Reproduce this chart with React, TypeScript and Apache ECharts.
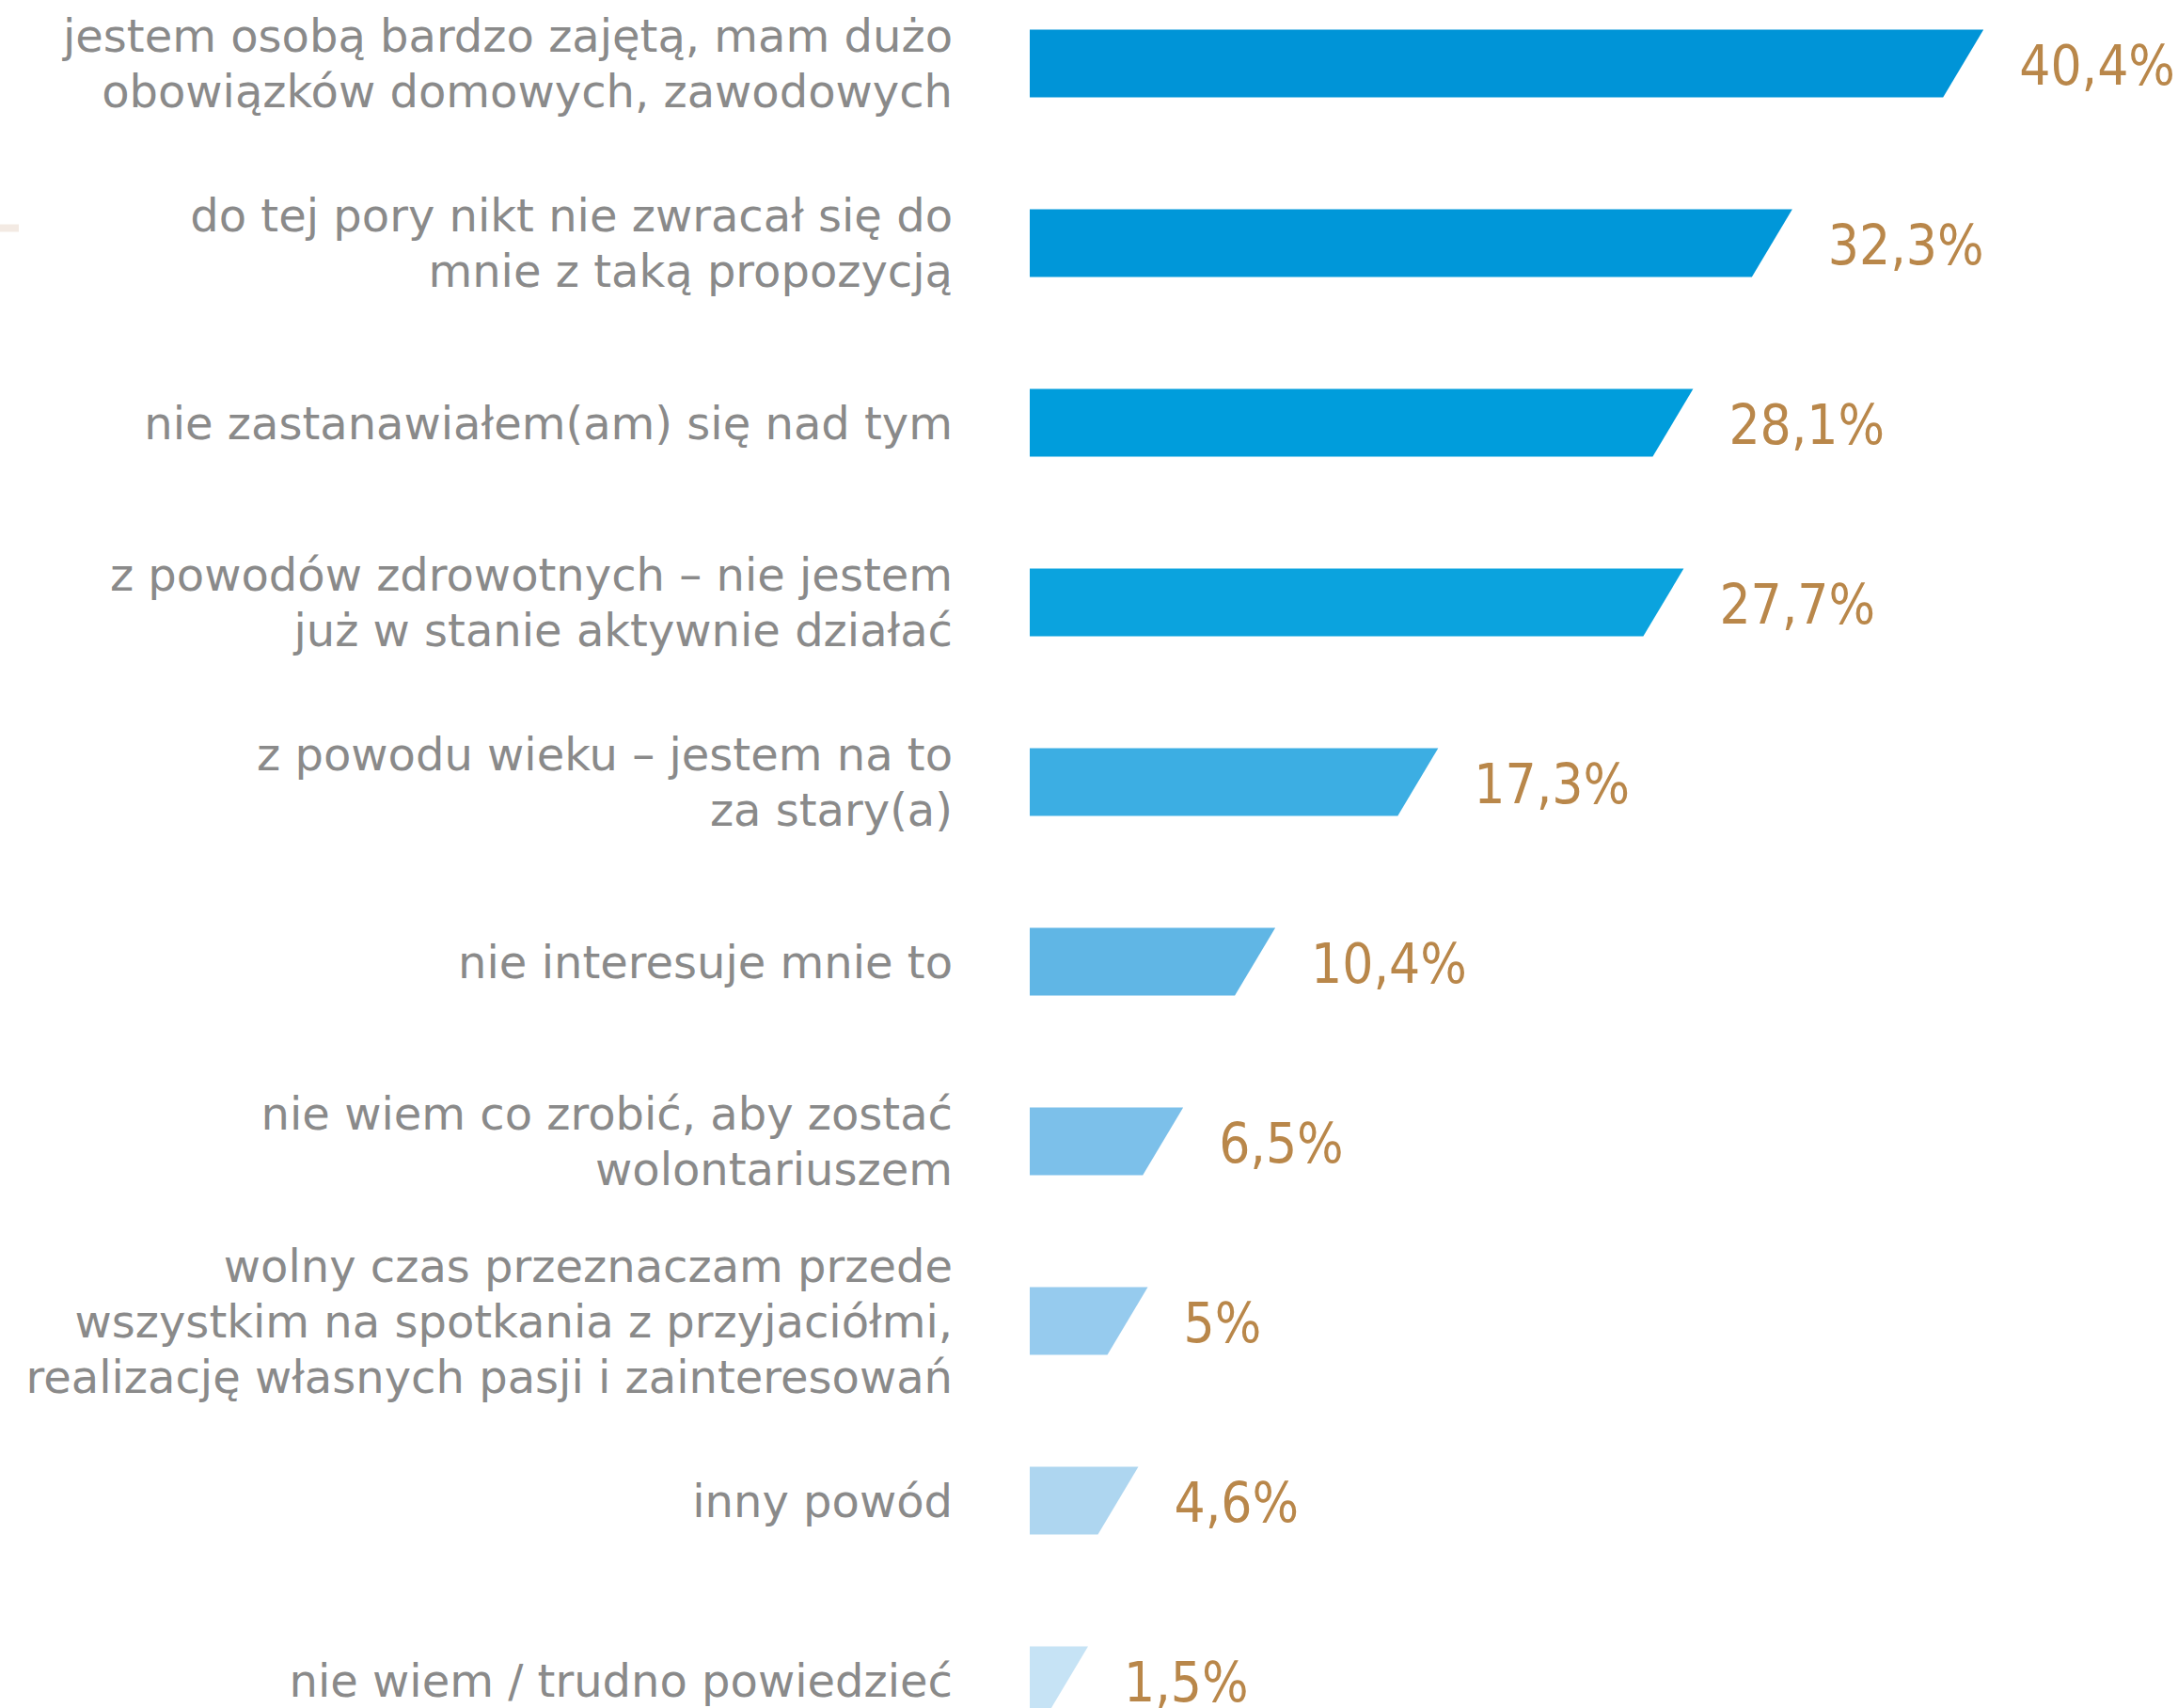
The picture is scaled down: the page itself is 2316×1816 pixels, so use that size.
import React, { useEffect, useRef } from "react";
import * as echarts from "echarts";

const categories = [
  "jestem osobą bardzo zajętą, mam dużo\nobowiązków domowych, zawodowych",
  "do tej pory nikt nie zwracał się do\nmnie z taką propozycją",
  "nie zastanawiałem(am) się nad tym",
  "z powodów zdrowotnych – nie jestem\njuż w stanie aktywnie działać",
  "z powodu wieku – jestem na to\nza stary(a)",
  "nie interesuje mnie to",
  "nie wiem co zrobić, aby zostać\nwolontariuszem",
  "wolny czas przeznaczam przede\nwszystkim na spotkania z przyjaciółmi,\nrealizację własnych pasji i zainteresowań",
  "inny powód",
  "nie wiem / trudno powiedzieć",
];

const values = [40.4, 32.3, 28.1, 27.7, 17.3, 10.4, 6.5, 5, 4.6, 1.5];

const barColors = [
  "#0094D7",
  "#0097D9",
  "#009DDC",
  "#0BA3DE",
  "#3CAEE3",
  "#60B6E5",
  "#7CC0EA",
  "#96CBEE",
  "#AED6F0",
  "#C6E3F5",
];

const LABEL_COLOR = "#8A8A8A";
const VALUE_COLOR = "#B9874A";
const LABEL_FONT = "'DejaVu Sans', sans-serif";
const VALUE_FONT = "'DejaVu Sans Condensed', 'DejaVu Sans', sans-serif";

// the chart area is taller than the page so that the top and bottom bars sit near the edges
const OFFSET_Y = 28.5;
const CHART_H = 1910;

export default function App() {
  const ref = useRef<HTMLDivElement>(null);

  useEffect(() => {
    if (!ref.current) return;
    const chart = echarts.init(ref.current, undefined, { renderer: "svg" });
    const data = values.map((v, i) => [i, v]);
    chart.setOption({
      animation: false,
      backgroundColor: "#ffffff",
      grid: { left: 1095, right: 16, top: 0, bottom: 0 },
      xAxis: { type: "value", min: 0, max: 48, show: false },
      yAxis: {
        type: "category",
        inverse: true,
        data: categories,
        axisLine: { show: false },
        axisTick: { show: false },
        splitLine: { show: false },
        axisLabel: {
          margin: 82,
          fontSize: 48,
          lineHeight: 59,
          color: LABEL_COLOR,
          fontFamily: LABEL_FONT,
          align: "right",
        },
      },
      graphic: [
        {
          type: "rect",
          shape: { x: 0, y: 238 + OFFSET_Y, width: 20, height: 8 },
          style: { fill: "#F3EAE3" },
        },
      ],
      series: [
        {
          type: "custom",
          encode: { x: 1, y: 0 },
          data,
          renderItem: (params: any, api: any) => {
            const i = api.value(0);
            const v = api.value(1);
            const start = api.coord([0, i]);
            const end = api.coord([v, i]);
            const h = 72;
            const slant = 43;
            const y0 = start[1] - h / 2;
            const y1 = start[1] + h / 2;
            const topR = Math.max(end[0], start[0] + 62);
            const botR = Math.max(topR - slant, start[0] + 15);
            const text = String(v).replace(".", ",") + "%";
            return {
              type: "group",
              children: [
                {
                  type: "polygon",
                  shape: {
                    points: [
                      [start[0], y0],
                      [topR, y0],
                      [botR, y1],
                      [start[0], y1],
                    ],
                  },
                  style: { fill: barColors[i] },
                },
                {
                  type: "text",
                  style: {
                    text,
                    x: topR + 38,
                    y: start[1] + 2,
                    align: "left",
                    verticalAlign: "middle",
                    fill: VALUE_COLOR,
                    fontSize: 58,
                    fontFamily: VALUE_FONT,
                  },
                },
              ],
            };
          },
        },
      ],
    });
    return () => chart.dispose();
  }, []);

  return (
    <div
      ref={ref}
      style={{ position: "absolute", left: 0, top: -OFFSET_Y, width: 2316, height: CHART_H }}
    />
  );
}
